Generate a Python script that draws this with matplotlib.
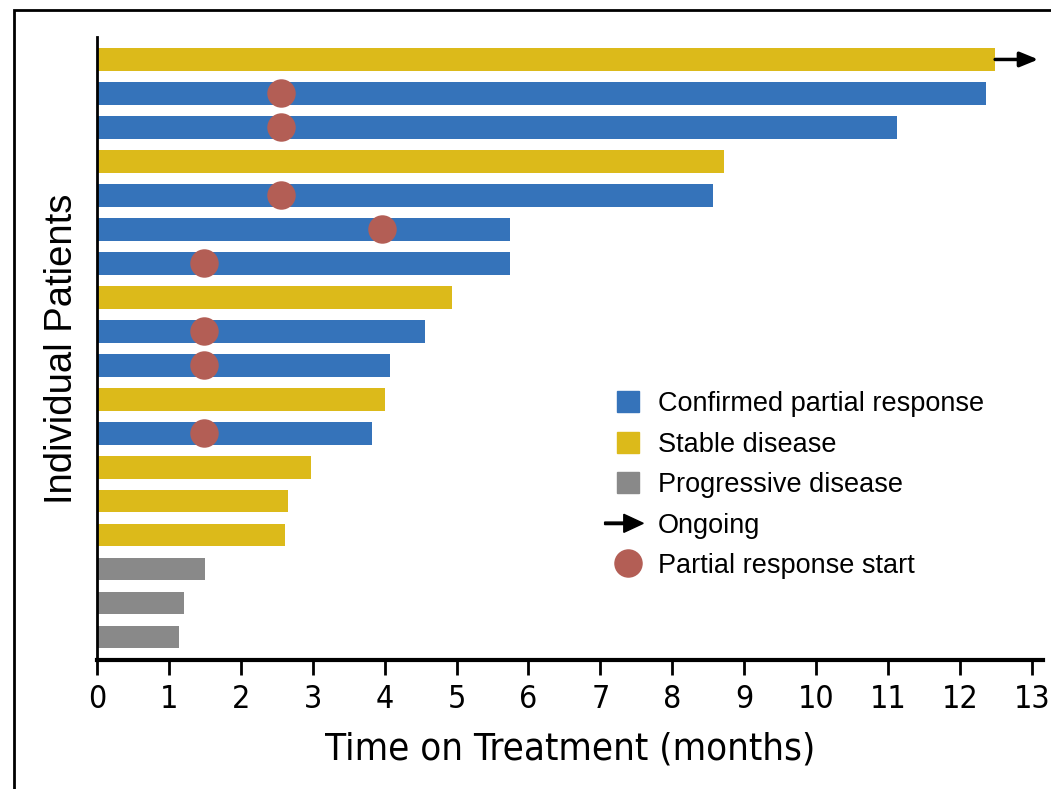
import matplotlib
matplotlib.use("Agg")
import matplotlib.pyplot as plt
from matplotlib import font_manager
from matplotlib.patches import Patch, FancyArrow, Rectangle
from matplotlib.lines import Line2D
from matplotlib.legend_handler import HandlerPatch

# Months on treatment per patient, top of the chart first
months = [12.49, 12.36, 11.12, 8.72, 8.57, 5.74, 5.74, 4.94, 4.56,
          4.07, 4.00, 3.83, 2.97, 2.65, 2.61, 1.50, 1.21, 1.14]
response = ["SD", "PR", "PR", "SD", "PR", "PR", "PR", "SD", "PR",
            "PR", "SD", "PR", "SD", "SD", "SD", "PD", "PD", "PD"]
# Time of partial response onset (None where there was none)
pr_start = [None, 2.56, 2.56, None, 2.56, 3.96, 1.49, None, 1.49,
            1.49, None, 1.49, None, None, None, None, None, None]
ongoing = [True] + [False] * 17

colors = {"PR": "#3573ba", "SD": "#dcba1a", "PD": "#898989"}
dot_color = "#b35e55"

# pick a narrow face for the axis text if one is installed
narrow = None
for f in font_manager.fontManager.ttflist:
    name = (f.name + " " + f.fname).lower()
    if ("narrow" in name or "condensed" in name) and "bold" not in name \
            and "italic" not in name and "oblique" not in name:
        narrow = f.fname
        break
if narrow:
    cond = font_manager.FontProperties(fname=narrow)
else:
    cond = font_manager.FontProperties(family="DejaVu Sans", stretch="condensed")

fig = plt.figure(figsize=(10.51, 7.89), dpi=100)
ax = fig.add_axes([0.0923, 0.1635, 0.8997, 0.79])

n = len(months)
ypos = [n - 1 - i for i in range(n)]

ax.barh(ypos, months, height=0.66, color=[colors[r] for r in response],
        left=0, zorder=2)

for y, s in zip(ypos, pr_start):
    if s is not None:
        ax.scatter(s, y, s=420, color=dot_color, zorder=3, linewidths=0)

for y, m, o in zip(ypos, months, ongoing):
    if o:
        ax.annotate("", xy=(m + 0.6, y), xytext=(m, y),
                    arrowprops=dict(arrowstyle="-|>,head_length=1.1,head_width=0.45",
                                    color="black", lw=2.5, shrinkA=0, shrinkB=0),
                    annotation_clip=False, zorder=4)

ax.set_xlim(0, 13.15)
ax.set_ylim(-0.67, n - 1 + 0.67)
ax.set_xticks(range(14))
ax.set_yticks([])
for lbl in ax.get_xticklabels():
    lbl.set_fontproperties(cond)
    lbl.set_fontsize(23)
ax.tick_params(axis="x", length=11, width=2, pad=6)

for side in ["top", "right"]:
    ax.spines[side].set_visible(False)
ax.spines["bottom"].set_linewidth(3)
ax.spines["left"].set_linewidth(2)

ax.set_xlabel("Time on Treatment (months)", fontproperties=cond, labelpad=12)
ax.xaxis.label.set_fontsize(27.5)
ax.set_ylabel("Individual Patients", fontsize=27.5, family="Liberation Sans", labelpad=12)


def make_arrow(legend, orig_handle, xdescent, ydescent, width, height, fontsize):
    return FancyArrow(-xdescent - 9, height / 2 - ydescent, width + 12, 0,
                      width=1.8, head_width=13, head_length=14,
                      length_includes_head=True, color="black")


handles = [Patch(color=colors["PR"]), Patch(color=colors["SD"]),
           Patch(color=colors["PD"]), FancyArrow(0, 0, 1, 0, color="black"),
           Line2D([], [], marker="o", ls="", markersize=19.5, color=dot_color)]
labels = ["Confirmed partial response", "Stable disease", "Progressive disease",
          "Ongoing", "Partial response start"]
fig.legend(handles, labels, loc="upper left", bbox_to_anchor=(0.564, 0.535),
           frameon=False, handlelength=0.81, handleheight=0.81,
           handletextpad=0.7, labelspacing=0.535,
           prop={"family": "Liberation Sans", "size": 19.5},
           handler_map={FancyArrow: HandlerPatch(patch_func=make_arrow)})

# Outer frame around the figure
fig.patches.append(Rectangle((14 / 1051, -0.05), 1.2, 1.05 - 10 / 789,
                             transform=fig.transFigure, fill=False,
                             edgecolor="black", lw=2, zorder=10))

fig.savefig("out.png", dpi=100)
